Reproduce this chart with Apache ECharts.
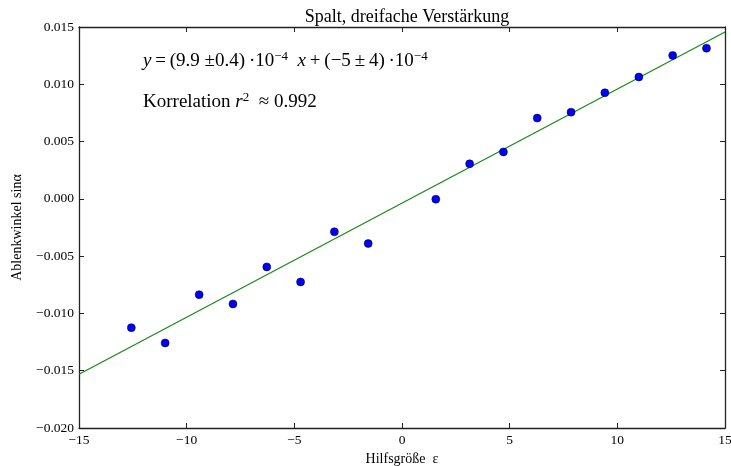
<!DOCTYPE html>
<html><head><meta charset="utf-8">
<script src="https://cdn.jsdelivr.net/npm/echarts@6/dist/echarts.min.js"></script>
<style>html,body{margin:0;padding:0;background:#fff}#c{width:731px;height:466px}</style>
</head><body><div id="c"></div>
<script>
const xValues = [-12.57, -11.00, -9.42, -7.85, -6.28, -4.71, -3.14, -1.57, 1.57, 3.14, 4.71, 6.28, 7.85, 9.42, 11.00, 12.57, 14.14];
const yValues = [-0.01124, -0.01258, -0.00836, -0.00917, -0.00594, -0.00725, -0.00288, -0.00390, -0.00003, 0.00306, 0.00410, 0.00705, 0.00757, 0.00926, 0.01063, 0.01252, 0.01315];
const fitX = [-15, 15];
const fitY = [-0.01531, 0.01456];
const xTicks = [-15, -10, -5, 0, 5, 10, 15];
const yTicks = [-0.020, -0.015, -0.010, -0.005, 0.000, 0.005, 0.010, 0.015];

const FONT = '"Liberation Serif", "DejaVu Serif", serif';
const chart = echarts.init(document.getElementById('c'), null, {renderer: 'canvas'});
const minus = s => s.replace('-', '\u2212');
const axisCommon = {
  axisLine: {show: true, onZero: false, lineStyle: {color: '#222', width: 1.3}},
  axisTick: {show: true, inside: true, length: 5, lineStyle: {color: '#222'}},
  splitLine: {show: false}
};
const richStyles = {
  n: {fontFamily: FONT, fontSize: 19, color: '#000'},
  i: {fontFamily: FONT, fontSize: 19, fontStyle: 'italic', color: '#000'},
  s: {fontFamily: FONT, fontSize: 13, color: '#000', verticalAlign: 'top', padding: [0, 0, 9, 0]}
};
chart.setOption({
  animation: false,
  backgroundColor: '#fff',
  title: {
    text: 'Spalt, dreifache Verstärkung',
    left: 402, top: 3, textAlign: 'center',
    textStyle: {fontFamily: FONT, fontWeight: 'normal', fontSize: 18, color: '#000'}
  },
  grid: {left: 79, right: 6, top: 27, bottom: 38, containLabel: false, outerBoundsMode: 'none'},
  xAxis: [
    Object.assign({
      type: 'value', min: xTicks[0], max: xTicks[xTicks.length - 1], interval: 5, position: 'bottom',
      name: 'Hilfsgröße  ε', nameLocation: 'middle', nameGap: 22,
      nameTextStyle: {fontFamily: FONT, fontSize: 14, color: '#000'},
      axisLabel: {fontFamily: FONT, fontSize: 13.5, color: '#000', margin: 5,
        formatter: v => minus(String(v))}
    }, axisCommon),
    Object.assign({
      type: 'value', min: xTicks[0], max: xTicks[xTicks.length - 1], interval: 5, position: 'top',
      axisLabel: {show: false}
    }, axisCommon)
  ],
  yAxis: [
    Object.assign({
      type: 'value', min: yTicks[0], max: yTicks[yTicks.length - 1], interval: 0.005, position: 'left',
      name: 'Ablenkwinkel sinα', nameLocation: 'middle', nameGap: 55,
      nameTextStyle: {fontFamily: FONT, fontSize: 14, color: '#000'},
      axisLabel: {fontFamily: FONT, fontSize: 13.5, color: '#000', margin: 5,
        formatter: v => minus(v.toFixed(3))}
    }, axisCommon),
    Object.assign({
      type: 'value', min: yTicks[0], max: yTicks[yTicks.length - 1], interval: 0.005, position: 'right',
      axisLabel: {show: false}
    }, axisCommon)
  ],
  series: [
    {
      type: 'line', xAxisIndex: 0, yAxisIndex: 0,
      data: fitX.map((x, i) => [x, fitY[i]]),
      showSymbol: false, symbol: 'none',
      lineStyle: {color: '#1a8a1a', width: 1.3}, z: 2
    },
    {
      type: 'scatter', xAxisIndex: 0, yAxisIndex: 0,
      data: xValues.map((x, i) => [x, yValues[i]]),
      symbol: 'circle', symbolSize: 8,
      itemStyle: {color: '#0000ff', borderColor: '#000', borderWidth: 0.5, opacity: 1}, z: 3
    }
  ],
  graphic: [
    {
      type: 'text', left: 143, top: 50, z: 10,
      style: {
        text: '{i|y}{n|\u2009=\u2009(9.9 ±0.4)\u2009·10}{s|−4}{n|  }{i|x}{n|\u2009+\u2009(−5\u2009±\u20094)\u2009·10}{s|−4}',
        rich: richStyles
      }
    },
    {
      type: 'text', left: 143, top: 91, z: 10,
      style: {
        text: '{n|Korrelation }{i|r}{s|2}{n|  ≈ 0.992}',
        rich: richStyles
      }
    }
  ]
});
</script>
</body></html>
